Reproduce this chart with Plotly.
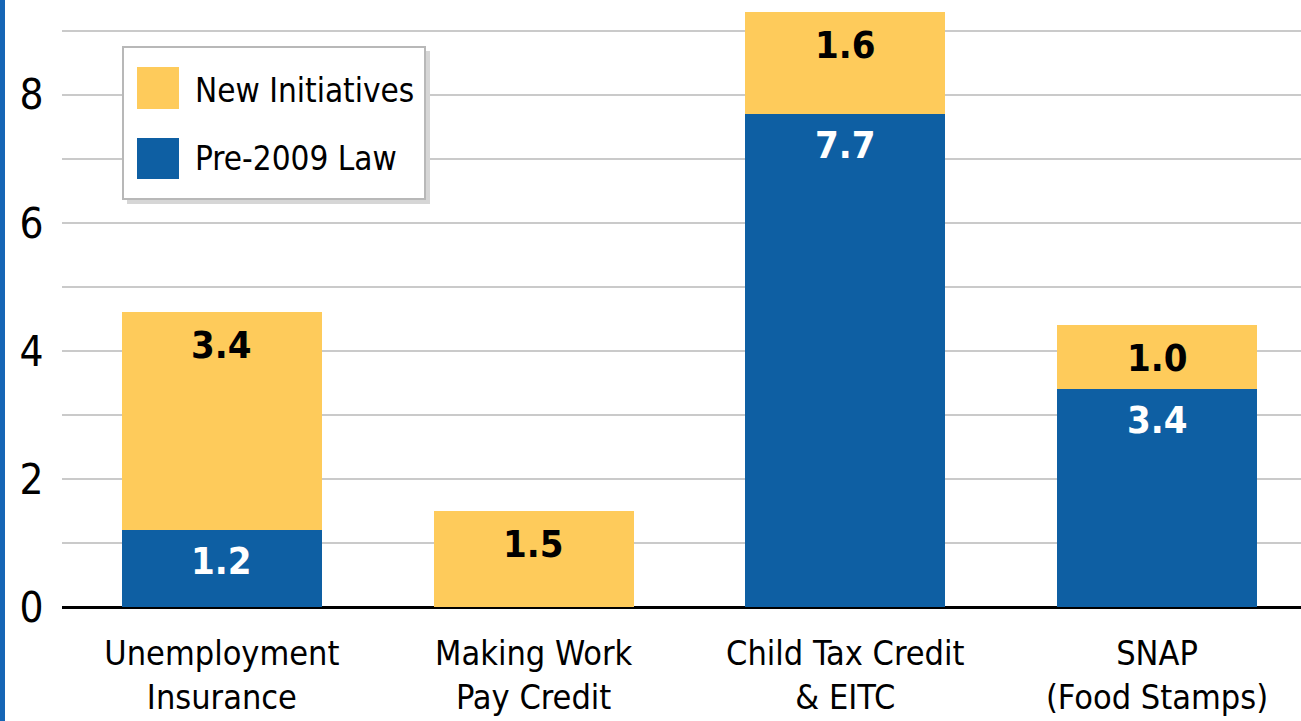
import plotly.graph_objects as go

# Program spending, split by source of the increase
categories = ["Unemployment<br>Insurance", "Making Work<br>Pay Credit",
              "Child Tax Credit<br>& EITC", "SNAP<br>(Food Stamps)"]
pre_2009 = [1.2, 0.0, 7.7, 3.4]
new_initiatives = [3.4, 1.5, 1.6, 1.0]
y_ticks = [0, 2, 4, 6, 8]

YELLOW = "#FECB5B"
BLUE = "#0E5FA3"
FONT = "DejaVu Sans Condensed, Liberation Sans Narrow, sans-serif"

fig = go.Figure()
fig.add_trace(go.Bar(x=categories, y=pre_2009, name="Pre-2009 Law",
                     marker=dict(color=BLUE, line=dict(width=0)),
                     showlegend=False))
fig.add_trace(go.Bar(x=categories, y=new_initiatives, name="New Initiatives",
                     marker=dict(color=YELLOW, line=dict(width=0)),
                     showlegend=False))

# value labels near the top of each segment
annotations = []
for cat, p, n in zip(categories, pre_2009, new_initiatives):
    if p > 0:
        annotations.append(dict(x=cat, y=p, xref="x", yref="y", text=f"<b>{p:.1f}</b>",
                                showarrow=False, yanchor="middle", yshift=-31,
                                font=dict(family=FONT, size=38, color="white")))
    if n > 0:
        annotations.append(dict(x=cat, y=p + n, xref="x", yref="y", text=f"<b>{n:.1f}</b>",
                                showarrow=False, yanchor="middle", yshift=-33,
                                font=dict(family=FONT, size=38, color="black")))

# plot area: x 62..1301 px, y 0..607 px
PW, PH = 1239.0, 607.0
def px(x):
    return (x - 62) / PW
def py(y):
    return (607 - y) / PH

shapes = [
    # blue rule down the left edge
    dict(type="rect", xref="paper", yref="paper", x0=px(0), x1=px(5), y0=py(721), y1=py(0),
         fillcolor="#1565B5", line=dict(width=0), layer="above"),
    # legend box shadow and frame
    dict(type="rect", xref="paper", yref="paper", x0=px(127), x1=px(430), y0=py(204), y1=py(51),
         fillcolor="#D6D6D6", line=dict(width=0), layer="above"),
    dict(type="rect", xref="paper", yref="paper", x0=px(123), x1=px(425), y0=py(199), y1=py(47),
         fillcolor="white", line=dict(color="#B8B8B8", width=2), layer="above"),
    # legend swatches
    dict(type="rect", xref="paper", yref="paper", x0=px(137), x1=px(179), y0=py(109), y1=py(67),
         fillcolor=YELLOW, line=dict(width=0), layer="above"),
    dict(type="rect", xref="paper", yref="paper", x0=px(137), x1=px(179), y0=py(179), y1=py(138),
         fillcolor=BLUE, line=dict(width=0), layer="above"),
]
for label, ypix in [("New Initiatives", 90), ("Pre-2009 Law", 158)]:
    annotations.append(dict(x=px(193), y=py(ypix), xref="paper", yref="paper", text=label,
                            showarrow=False, xanchor="left", yanchor="middle",
                            font=dict(family=FONT, size=33, color="black")))

fig.update_layout(
    barmode="stack",
    bargap=0.358,
    width=1301, height=721,
    margin=dict(l=62, r=0, t=0, b=114),
    paper_bgcolor="white", plot_bgcolor="white",
    font=dict(family=FONT, color="black"),
    xaxis=dict(range=[-0.513, 3.462], showgrid=False, showline=False, zeroline=False,
               ticks="outside", ticklen=16, tickcolor="rgba(0,0,0,0)",
               tickfont=dict(family=FONT, size=34, color="black"),
               fixedrange=True),
    yaxis=dict(range=[0, 9.48], tickvals=y_ticks, ticktext=[str(v) for v in y_ticks],
               showgrid=True, gridcolor="#CACACA", gridwidth=2,
               minor=dict(dtick=1, showgrid=True, gridcolor="#CACACA", gridwidth=2),
               zeroline=True, zerolinecolor="black", zerolinewidth=3,
               showline=False, ticks="outside", ticklen=9, tickcolor="rgba(0,0,0,0)",
               tickfont=dict(family=FONT, size=42, color="black")),
    shapes=shapes,
    annotations=annotations,
)

fig.write_html("out.html")
